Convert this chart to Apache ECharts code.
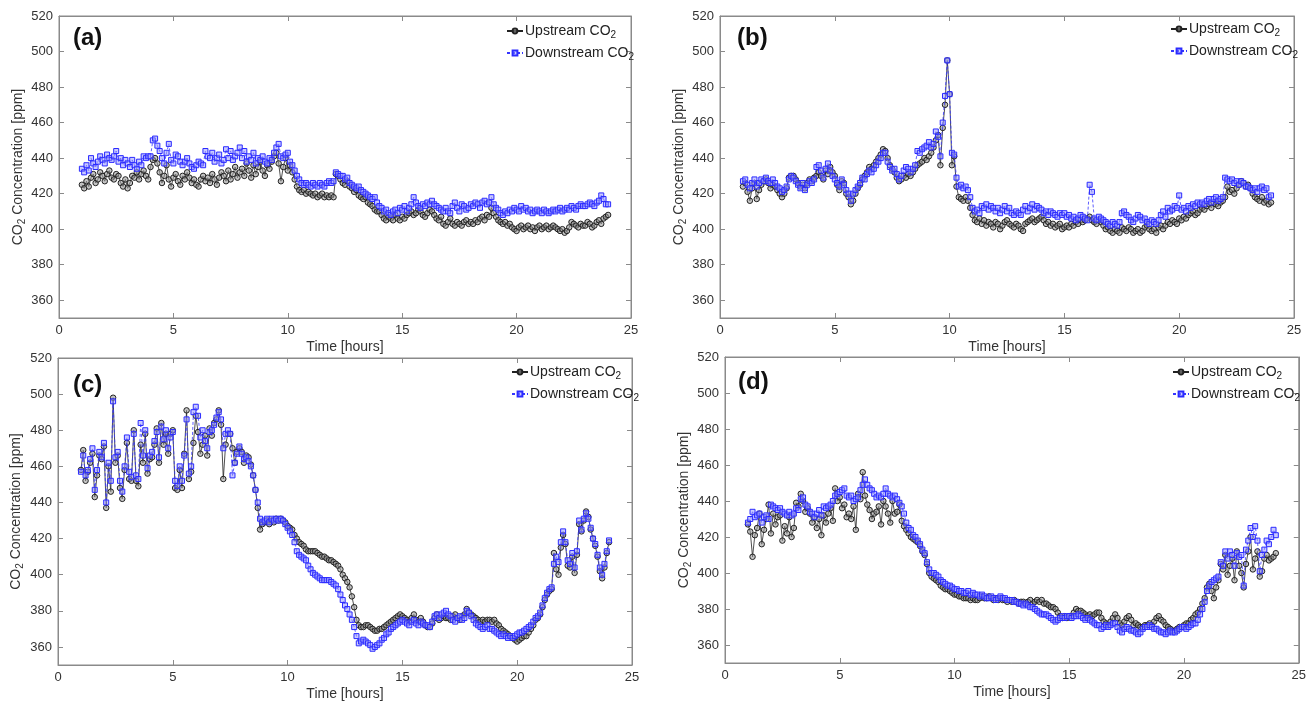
<!DOCTYPE html>
<html><head><meta charset="utf-8">
<script src="https://cdn.jsdelivr.net/npm/echarts@6/dist/echarts.min.js"></script>
<style>html,body{margin:0;padding:0;background:#fff}#c{width:1309px;height:702px}</style>
</head><body><div id="c"></div>
<script>
// sampling of the records (hours)
const START_HOUR = 1.0;
const STEP_HOUR = 0.1;
const xTickLabels = [0, 5, 10, 15, 20, 25];
const yTickLabels = [360, 380, 400, 420, 440, 460, 480, 500, 520];
const panelLabels = ['(a)', '(b)', '(c)', '(d)'];
const seriesNames = ['Upstream CO2', 'Downstream CO2'];
const yAxisTitle = 'CO2 Concentration [ppm]';
const xAxisTitle = 'Time [hours]';

// ---- panel (a)
const upA = [
425,423,427,424,429,431,426,428,432,430,
427,431,433,429,428,431,430,426,424,428,
423,426,430,429,432,428,431,433,430,428,
435,439,440,437,432,426,430,436,428,424,
429,431,427,425,430,428,432,429,426,428,
425,424,428,430,427,429,426,431,428,425,
429,432,430,427,433,428,431,435,429,432,
434,430,437,433,429,436,431,435,438,433,
430,436,434,438,441,443,437,427,435,440,
433,436,432,428,424,422,421,422,420,421,
420,419,420,418,419,420,418,419,418,419,
418,431,430,428,426,425,427,424,423,421,
422,419,418,417,418,415,414,413,411,410,
410,408,406,405,407,406,405,408,406,405,
407,406,408,409,410,408,409,411,410,408,
407,409,411,410,408,406,405,407,403,402,
404,406,403,402,404,403,402,404,405,403,
404,403,405,404,406,407,405,408,407,412,
409,407,405,404,403,404,402,403,401,400,
399,401,402,400,401,402,400,401,399,401,
402,400,401,402,400,401,402,401,400,399,
400,398,399,401,404,403,402,401,403,402,
402,404,403,401,402,404,405,403,406,407,
408];
const downA = [
434,432,436,433,440,437,435,438,441,439,
437,442,440,439,441,444,438,440,436,439,
437,435,439,436,434,438,436,441,440,441,
441,450,451,447,444,440,437,443,448,439,
437,442,441,438,436,438,440,437,435,434,
436,438,437,436,444,441,440,443,438,440,
442,437,439,445,440,444,439,441,443,446,
440,444,438,441,439,443,437,440,439,441,
438,437,440,439,443,446,448,441,440,442,
443,438,436,433,430,428,426,425,426,425,
424,426,425,424,426,425,424,426,427,426,
427,432,431,430,430,428,429,426,425,424,
423,424,422,421,420,419,418,417,418,415,
413,412,410,411,409,408,410,411,409,412,
411,413,410,412,414,418,415,413,412,414,
413,415,414,416,414,413,412,411,410,412,
410,409,413,415,412,410,414,413,411,412,
414,413,415,414,412,415,416,414,415,418,
414,412,411,409,408,410,409,411,410,412,
411,410,413,411,412,410,411,409,410,411,
410,409,411,410,409,410,411,410,411,412,
410,411,412,411,413,412,411,413,414,413,
413,414,415,414,413,415,416,419,417,414,
414];

// ---- panel (b)
const upB = [
424,426,421,416,423,426,417,422,425,427,
428,426,423,425,424,422,420,418,420,423,
429,430,430,428,426,424,425,423,426,428,
427,429,430,432,430,428,433,431,435,432,
430,425,422,427,426,420,418,414,416,420,
423,425,428,430,432,435,434,436,438,440,
442,445,444,440,436,434,432,429,427,428,
430,429,431,430,432,434,436,437,438,440,
439,441,443,446,450,453,436,457,470,495,
476,436,441,424,418,417,416,418,416,412,
408,405,404,406,403,405,402,404,403,401,
404,403,400,402,404,405,403,402,401,403,
402,400,399,403,404,405,406,404,405,406,
407,405,403,404,402,403,401,402,403,400,
401,402,401,403,402,404,403,405,404,405,
406,407,405,404,403,405,404,402,400,401,
399,398,400,399,398,401,400,399,401,400,
398,399,400,398,399,401,402,400,399,400,
398,401,402,400,402,404,403,405,404,403,
406,405,407,406,408,409,410,408,409,411,
412,411,413,414,412,415,414,413,415,416,
418,424,421,422,420,423,425,427,426,424,
425,423,420,418,417,416,418,415,416,414,
415];
const downB = [
427,428,425,423,426,428,424,426,428,427,
429,427,426,428,426,424,423,421,422,424,
428,430,429,427,425,423,426,422,425,427,
426,428,435,436,433,429,434,437,433,430,
428,426,424,428,425,422,420,416,420,422,
424,426,429,428,431,433,432,434,436,438,
440,443,443,438,435,433,434,431,428,430,
433,435,434,432,434,436,444,443,445,446,
447,449,446,448,455,452,441,460,475,495,
476,443,442,429,424,425,423,424,422,418,
412,410,411,409,413,412,414,411,413,412,
410,412,409,411,413,410,412,409,408,410,
409,408,411,413,410,412,414,411,413,412,
411,409,410,408,410,409,408,407,409,408,
409,407,408,406,407,405,406,408,407,406,
405,425,421,406,405,407,406,405,404,403,
402,404,403,402,404,409,410,408,407,405,
404,406,408,407,405,406,404,403,405,404,
403,405,408,410,407,412,410,411,413,412,
419,411,412,410,413,412,414,413,415,414,
415,414,416,417,415,417,418,416,417,418,
429,428,427,428,426,427,425,427,426,424,
424,423,422,423,421,423,424,422,423,418,
419];

// ---- panel (c)
const upC = [
458,469,452,457,462,467,443,455,466,464,
471,437,460,446,498,462,466,448,442,458,
473,453,452,480,452,449,472,462,478,456,
464,465,472,481,462,484,472,478,467,478,
480,448,447,458,448,467,491,453,457,473,
488,479,467,472,477,466,481,477,484,486,
491,483,453,472,478,478,470,462,468,470,
468,462,466,465,461,455,447,437,425,428,
429,430,428,430,429,431,430,431,430,429,
427,426,425,422,420,418,417,416,414,413,
413,413,413,412,411,410,410,409,408,408,
407,406,405,403,400,398,396,393,388,382,
375,372,371,371,372,372,371,370,369,369,
370,370,371,372,373,374,375,376,377,378,
377,376,375,374,376,378,375,374,376,374,
372,371,371,373,376,378,375,376,377,376,
376,375,377,378,376,375,377,378,381,379,
378,377,376,375,374,375,374,375,375,374,
375,373,372,370,369,368,367,366,365,364,
363,364,365,366,366,368,370,372,375,376,
378,382,386,389,391,392,412,403,400,415,
422,417,405,404,410,401,411,428,424,430,
435,432,425,420,416,410,402,398,404,412,
418];
const downC = [
457,466,455,458,464,470,447,458,468,465,
473,440,462,452,496,465,468,452,446,460,
476,457,454,478,455,453,484,466,480,459,
466,468,474,479,465,482,475,480,470,476,
479,452,449,460,452,466,486,456,460,490,
493,488,476,480,474,470,479,480,483,487,
490,486,470,478,480,478,455,462,467,471,
467,464,465,463,460,455,447,440,431,429,
430,431,429,431,430,431,430,431,430,428,
426,424,422,418,413,411,410,409,408,405,
403,401,400,399,398,397,397,397,397,396,
395,394,392,389,386,383,381,378,375,371,
366,362,363,364,363,362,361,359,360,361,
362,364,365,367,368,370,371,372,373,374,
375,374,373,372,374,375,373,372,374,373,
372,372,371,374,377,378,376,378,379,380,
378,377,375,374,376,377,375,376,380,379,
377,375,373,372,371,370,371,372,370,370,
369,368,367,366,367,366,365,366,365,366,
367,368,368,369,370,371,372,374,376,377,
379,383,387,390,392,393,406,410,407,418,
424,418,408,406,412,404,413,430,425,431,
434,431,426,420,417,411,404,400,406,413,
419];

// ---- panel (d)
const upD = [
427,423,409,421,425,433,416,424,430,438,
422,433,427,431,432,418,426,422,431,420,
425,439,437,444,440,434,436,433,428,431,
425,430,421,432,428,433,436,429,447,440,
442,436,438,431,433,430,437,424,444,441,
456,443,438,435,430,433,434,437,427,440,
437,433,428,440,433,434,438,429,426,424,
422,420,419,418,417,415,412,410,405,400,
398,397,396,395,393,392,391,391,390,389,
388,388,387,387,386,386,386,385,386,385,
385,386,387,386,386,387,386,385,386,385,
386,385,385,384,385,384,385,384,383,384,
384,383,384,385,383,384,385,384,385,383,
383,382,381,381,380,378,376,375,376,375,
376,376,378,380,379,379,378,377,376,377,
376,377,378,378,375,373,372,371,373,375,
377,375,372,371,373,375,376,374,371,372,
371,370,370,371,371,372,371,373,375,376,
374,373,371,370,369,368,368,369,370,370,
371,372,372,374,375,377,378,380,383,386,
392,394,390,386,392,396,405,402,410,399,
404,408,396,412,404,400,392,405,412,420,
402,408,412,398,401,408,410,407,408,409,
411];
const downD = [
428,430,434,431,432,433,428,431,432,430,
438,437,436,435,436,434,433,432,434,432,
433,436,435,441,442,438,437,434,433,431,
433,435,432,437,436,437,438,440,443,444,
445,446,447,443,442,443,440,441,442,446,
449,452,449,447,446,444,442,443,442,444,
447,444,443,442,443,441,439,437,433,428,
425,424,421,420,418,416,413,411,406,402,
400,400,399,398,396,395,394,393,393,392,
391,391,390,390,389,389,390,388,389,388,
388,387,388,387,386,386,387,386,385,386,
387,386,386,385,385,385,384,384,383,383,
382,383,382,381,381,380,379,378,377,377,
377,376,375,374,373,374,375,376,375,376,
376,375,376,376,377,376,375,374,375,374,
373,372,371,371,369,370,371,370,371,372,
372,370,368,367,369,370,369,368,368,367,
366,367,369,370,370,371,370,369,369,368,
367,367,366,367,368,367,367,368,369,370,
370,369,370,371,372,372,374,377,380,384,
390,393,395,396,397,398,406,404,412,408,
412,410,404,411,409,410,393,413,418,425,
420,426,418,401,410,413,418,416,420,424,
421];

const upSeries = [upA, upB, upC, upD];
const downSeries = [downA, downB, downC, downD];

// ---- layout (pixels)
const layout = [
  {grid:{left:59, top:16, width:572, height:302}, legend:{left:506, top:22}, label:{left:73, top:26}, yGap:31},
  {grid:{left:720, top:16, width:574, height:302}, legend:{left:1170, top:20}, label:{left:737, top:26}, yGap:31},
  {grid:{left:58, top:358, width:574, height:310}, legend:{left:511, top:363}, label:{left:73, top:373}, yGap:33},
  {grid:{left:725, top:357, width:574, height:306}, legend:{left:1172, top:363}, label:{left:738, top:370}, yGap:32}
];

const FONT = '"Liberation Sans", Arial, sans-serif';
const AXIS_COLOR = '#8a8a8a';
const TEXT_COLOR = '#333';
const SUB_RICH = {s:{fontSize:10, lineHeight:10, verticalAlign:'bottom', fontFamily:FONT}};
const withSub = t => t.replace('CO2', 'CO{s|2}');

function pairs(arr) {
  return arr.map((v, i) => [+(START_HOUR + i * STEP_HOUR).toFixed(2), v]);
}

const grids = [], xAxes = [], yAxes = [], series = [], legends = [], graphics = [];
layout.forEach((L, i) => {
  grids.push(Object.assign({show:true, borderColor:AXIS_COLOR, borderWidth:1, backgroundColor:'#fff'}, L.grid));
  const xBase = {gridIndex:i, type:'value', min:0, max:25, interval:5,
    axisLine:{show:true, onZero:false, lineStyle:{color:AXIS_COLOR, width:1}},
    axisTick:{show:true, inside:true, length:5, lineStyle:{color:AXIS_COLOR}},
    splitLine:{show:false}};
  xAxes.push(Object.assign({}, xBase, {position:'bottom',
    axisLabel:{show:true, color:TEXT_COLOR, fontSize:13, fontFamily:FONT, margin:6,
      customValues: xTickLabels},
    name:xAxisTitle, nameLocation:'middle', nameGap:22,
    nameTextStyle:{color:TEXT_COLOR, fontSize:14, fontFamily:FONT}}));
  xAxes.push(Object.assign({}, xBase, {position:'top', axisLabel:{show:false}}));
  const yBase = {gridIndex:i, type:'value', min:350, max:520,
    axisLine:{show:true, onZero:false, lineStyle:{color:AXIS_COLOR, width:1}},
    axisTick:{show:true, inside:true, length:5, customValues: yTickLabels, lineStyle:{color:AXIS_COLOR}},
    splitLine:{show:false}};
  yAxes.push(Object.assign({}, yBase, {position:'left',
    axisLabel:{show:true, color:TEXT_COLOR, fontSize:13, fontFamily:FONT, margin:6, customValues: yTickLabels},
    name:withSub(yAxisTitle), nameLocation:'middle', nameGap:L.yGap, nameRotate:90,
    nameTextStyle:{color:TEXT_COLOR, fontSize:14, lineHeight:18, fontFamily:FONT, rich:SUB_RICH}}));
  yAxes.push(Object.assign({}, yBase, {position:'right', axisLabel:{show:false}}));

  series.push({name:seriesNames[0], type:'line', xAxisIndex:2*i, yAxisIndex:2*i,
    data:pairs(upSeries[i]), symbol:'circle', symbolSize:5.5, showSymbol:true,
    lineStyle:{color:'#222', width:0.8},
    itemStyle:{color:'rgba(150,150,150,0.55)', borderColor:'#222', borderWidth:1},
    emphasis:{disabled:true}, animation:false, z:2});
  series.push({name:seriesNames[1], type:'line', xAxisIndex:2*i, yAxisIndex:2*i,
    data:pairs(downSeries[i]), symbol:'rect', symbolSize:5, showSymbol:true,
    lineStyle:{color:'#3535ff', width:0.8, type:[3,2]},
    itemStyle:{color:'rgba(150,150,255,0.5)', borderColor:'#2b2bff', borderWidth:1},
    emphasis:{disabled:true}, animation:false, z:3});

  legends.push({data:seriesNames, orient:'vertical', left:L.legend.left, top:L.legend.top,
    itemWidth:16, itemHeight:6, itemGap:4, padding:0, selectedMode:false,
    formatter: withSub,
    textStyle:{color:'#222', fontSize:14, lineHeight:18, fontFamily:FONT, padding:[0,0,0,-3], rich:SUB_RICH}});

  graphics.push({type:'text', left:L.label.left, top:L.label.top,
    style:{text:panelLabels[i], font:'bold 24px ' + FONT, fill:'#111'}});
});

const chart = echarts.init(document.getElementById('c'), null, {renderer:'canvas'});
chart.setOption({
  animation:false,
  backgroundColor:'#fff',
  grid:grids, xAxis:xAxes, yAxis:yAxes, series:series, legend:legends, graphic:graphics
});
</script></body></html>
